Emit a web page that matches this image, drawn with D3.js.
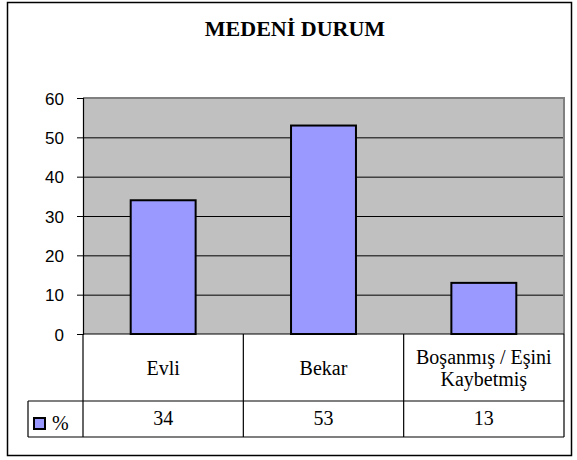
<!DOCTYPE html>
<html>
<head>
<meta charset="utf-8">
<script src="https://cdn.jsdelivr.net/npm/d3@7"></script>
<style>
  body { margin: 0; background: #fff; }
</style>
</head>
<body>
<svg width="577" height="460"></svg>
<script>
const categories = ['Evli', 'Bekar', 'Boşanmış / Eşini|Kaybetmiş'];
const values = [34, 53, 13];
const seriesName = '%';
const yTicks = [0, 10, 20, 30, 40, 50, 60];

const serif = "'Liberation Serif', 'Times New Roman', serif";
const sans = "'Liberation Sans', Arial, sans-serif";

const svg = d3.select('svg');

const plotLeft = 83;
const plotRight = 564;
const plotTop = 98;
const plotBottom = 334;
const rowMid = 401;
const rowEnd = 437;
const legendLeft = 28;

// outer frame
svg.append('rect')
    .attr('x', 7.5)
    .attr('y', 2.5)
    .attr('width', 564)
    .attr('height', 453)
    .attr('fill', '#fff')
    .attr('stroke', '#000')
    .attr('stroke-width', 1.5);

svg.append('text')
    .attr('x', 295)
    .attr('y', 36)
    .attr('text-anchor', 'middle')
    .attr('font-family', serif)
    .attr('font-weight', 'bold')
    .attr('font-size', 22)
    .text('MEDENİ DURUM');

const xScale = d3.scaleBand()
    .range([plotLeft, plotRight])
    .domain(categories)
    .padding(0);

const yScale = d3.scaleLinear()
    .range([plotBottom, plotTop])
    .domain([0, 60]);

// plot background
svg.append('rect')
    .attr('x', plotLeft)
    .attr('y', plotTop)
    .attr('width', plotRight - plotLeft)
    .attr('height', plotBottom - plotTop)
    .attr('fill', '#c0c0c0');

// grid lines
svg.append('g')
    .attr('transform', `translate(${plotLeft}, 0)`)
    .call(d3.axisLeft(yScale)
        .tickValues(yTicks.slice(1, -1))
        .tickSize(-(plotRight - plotLeft))
        .tickFormat(''))
    .call(g => g.select('.domain').remove())
    .selectAll('line')
    .attr('stroke', '#000');

// plot border top/right
svg.append('path')
    .attr('d', `M${plotLeft},${plotTop}H${plotRight}V${plotBottom}`)
    .attr('fill', 'none')
    .attr('stroke', '#808080')
    .attr('stroke-width', 2);

// bars
const barW = xScale.bandwidth() * 0.405;
svg.selectAll('.bar')
    .data(values)
    .enter()
    .append('rect')
    .attr('class', 'bar')
    .attr('x', (d, i) => xScale(categories[i]) + (xScale.bandwidth() - barW) / 2)
    .attr('y', d => yScale(d))
    .attr('width', barW)
    .attr('height', d => yScale(0) - yScale(d))
    .attr('fill', '#9999ff')
    .attr('stroke', '#000')
    .attr('stroke-width', 2);

// y axis
svg.append('g')
    .attr('transform', `translate(${plotLeft}, 0)`)
    .attr('font-family', sans)
    .attr('font-size', 17)
    .call(d3.axisLeft(yScale)
        .tickValues(yTicks)
        .tickSize(6)
        .tickPadding(13))
    .attr('font-family', sans)
    .attr('font-size', 17)
    .call(g => g.select('.domain').attr('stroke', '#000').attr('stroke-width', 1.2))
    .call(g => g.selectAll('.tick line').attr('stroke', '#000'))
    .call(g => g.selectAll('.tick text').attr('fill', '#000').attr('dy', '0.36em'));

// data table
const table = svg.append('g')
    .attr('stroke', '#000')
    .attr('stroke-width', 1.2)
    .attr('fill', 'none');

table.append('line').attr('x1', plotLeft).attr('x2', plotRight).attr('y1', plotBottom).attr('y2', plotBottom);
table.append('line').attr('x1', legendLeft).attr('x2', plotRight).attr('y1', rowMid).attr('y2', rowMid);
table.append('line').attr('x1', legendLeft).attr('x2', plotRight).attr('y1', rowEnd).attr('y2', rowEnd);
table.append('line').attr('x1', legendLeft).attr('x2', legendLeft).attr('y1', rowMid).attr('y2', rowEnd);

const edges = categories.map(c => xScale(c)).concat([plotRight]);
table.selectAll('.vline')
    .data(edges)
    .enter()
    .append('line')
    .attr('x1', d => d)
    .attr('x2', d => d)
    .attr('y1', plotBottom)
    .attr('y2', rowEnd);

// category labels
categories.forEach(c => {
    const lines = c.split('|');
    const cx = xScale(c) + xScale.bandwidth() / 2;
    const lh = 22;
    const y0 = (plotBottom + rowMid) / 2 + 7 - (lines.length - 1) * lh / 2;
    const t = svg.append('text')
        .attr('font-family', serif)
        .attr('font-size', 20)
        .attr('text-anchor', 'middle');
    lines.forEach((l, i) => {
        t.append('tspan')
            .attr('x', cx)
            .attr('y', y0 + i * lh)
            .text(l);
    });
});

// values row
svg.selectAll('.val')
    .data(values)
    .enter()
    .append('text')
    .attr('font-family', serif)
    .attr('font-size', 20)
    .attr('x', (d, i) => xScale(categories[i]) + xScale.bandwidth() / 2)
    .attr('y', 425)
    .attr('text-anchor', 'middle')
    .text(d => d);

// legend key
svg.append('rect')
    .attr('x', 34)
    .attr('y', 418)
    .attr('width', 11)
    .attr('height', 11)
    .attr('fill', '#9999ff')
    .attr('stroke', '#000')
    .attr('stroke-width', 2);

svg.append('text')
    .attr('font-family', serif)
    .attr('font-size', 20)
    .attr('x', 52)
    .attr('y', 430)
    .text(seriesName);
</script>
</body>
</html>
